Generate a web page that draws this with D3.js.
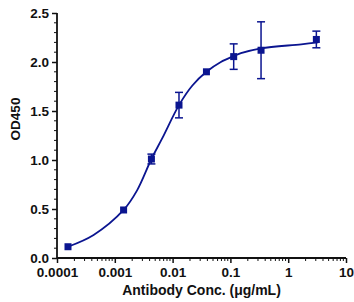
<!DOCTYPE html>
<html>
<head>
<meta charset="utf-8">
<script src="https://cdn.jsdelivr.net/npm/d3@7"></script>
<style>
  body { margin: 0; background: #fff; }
  text { font-family: "Liberation Sans", Arial, sans-serif; font-weight: bold; fill: #111; }
</style>
</head>
<body>
<svg id="Vis" width="354" height="302"></svg>
<script>
/*
* DATA
*/
const conc = [0.000155, 0.00142, 0.0043, 0.0129, 0.0385, 0.114, 0.339, 3.07];
const od = [0.115, 0.49, 1.01, 1.56, 1.90, 2.055, 2.12, 2.23];
const sd = [0.01, 0.01, 0.05, 0.13, 0.01, 0.13, 0.29, 0.085];

// fitted curve
const fitConc = [0.000155, 0.00043, 0.00142, 0.00243, 0.0043, 0.0066, 0.0129, 0.022, 0.0385, 0.0684, 0.114, 0.152, 0.339, 1.68, 3.3];
const fitOd = [0.115, 0.235, 0.49, 0.69, 1.01, 1.22, 1.56, 1.76, 1.90, 2.00, 2.06, 2.09, 2.14, 2.18, 2.20];

const xTicks = [0.0001, 0.001, 0.01, 0.1, 1, 10];
const xTickLabels = ["0.0001", "0.001", "0.01", "0.1", "1", "10"];
const yTicks = [0, 0.5, 1.0, 1.5, 2.0, 2.5];

/*
* SETUP
*/
const svg = d3.select("svg#Vis");
const blue = "#0b1590";
const margin = { left: 57, right: 346, top: 13, bottom: 258 };

const x = d3.scaleLog().domain([0.0001, 10]).range([margin.left, margin.right]);
const y = d3.scaleLinear().domain([0, 2.5]).range([margin.bottom, margin.top]);

/* minor ticks */
const xMinor = [];
for (let e = -4; e < 1; e++) {
  for (let m = 2; m <= 9; m++) xMinor.push(m * Math.pow(10, e));
}
const yMinor = d3.range(0, 2.51, 0.1).filter(v => Math.abs(v * 2 - Math.round(v * 2)) > 1e-6);

const axisG = svg.append("g");

/* X axis */
const xAxis = axisG.append("g").attr("transform", "translate(0," + margin.bottom + ")");
xAxis.call(d3.axisBottom(x).tickValues(xTicks).tickFormat((d, i) => xTickLabels[i]).tickSize(5).tickPadding(4));
xAxis.append("g").selectAll("line").data(xMinor).join("line")
  .attr("x1", d => x(d)).attr("x2", d => x(d)).attr("y1", 0).attr("y2", 3)
  .attr("stroke", "#111").attr("stroke-width", 1);

/* Y axis */
const yAxis = axisG.append("g").attr("transform", "translate(" + margin.left + ",0)");
yAxis.call(d3.axisLeft(y).tickValues(yTicks).tickFormat(d3.format(".1f")).tickSize(5).tickPadding(3));
yAxis.append("g").selectAll("line").data(yMinor).join("line")
  .attr("y1", d => y(d)).attr("y2", d => y(d)).attr("x1", 0).attr("x2", -3)
  .attr("stroke", "#111").attr("stroke-width", 1);

/* plain axis lines, no end caps */
xAxis.select(".domain").attr("d", "M" + margin.left + ",0H" + margin.right);
yAxis.select(".domain").attr("d", "M0," + margin.bottom + "V" + margin.top);
axisG.selectAll(".domain").attr("stroke", "#111").attr("stroke-width", 1.8);
axisG.selectAll(".tick line").attr("stroke", "#111").attr("stroke-width", 1.5);
axisG.selectAll(".tick text")
  .style("font-size", "13.5px")
  .style("font-family", "Liberation Sans, Arial, sans-serif")
  .style("font-weight", "bold")
  .attr("fill", "#111");

/* Axis titles */
svg.append("text")
  .attr("x", 201.5).attr("y", 295)
  .attr("text-anchor", "middle")
  .style("font-size", "14px")
  .text("Antibody Conc. (μg/mL)");

svg.append("text")
  .attr("transform", "translate(20,119) rotate(-90)")
  .attr("text-anchor", "middle")
  .style("font-size", "13.5px")
  .text("OD450");

/* Fit curve */
const line = d3.line()
  .x((d, i) => x(fitConc[i]))
  .y(d => y(d))
  .curve(d3.curveCatmullRom);

svg.append("path")
  .datum(fitOd)
  .attr("d", line)
  .attr("fill", "none")
  .attr("stroke", blue)
  .attr("stroke-width", 1.8);

/* Error bars */
const err = svg.append("g").attr("stroke", blue).attr("stroke-width", 1.5);
conc.forEach((c, i) => {
  if (sd[i] < 0.03) return;
  const cx = x(c);
  const y1 = y(od[i] + sd[i]);
  const y2 = y(od[i] - sd[i]);
  err.append("line").attr("x1", cx).attr("x2", cx).attr("y1", y1).attr("y2", y2);
  err.append("line").attr("x1", cx - 4).attr("x2", cx + 4).attr("y1", y1).attr("y2", y1);
  err.append("line").attr("x1", cx - 4).attr("x2", cx + 4).attr("y1", y2).attr("y2", y2);
});

/* Points */
svg.append("g").selectAll("rect").data(od).join("rect")
  .attr("x", (d, i) => x(conc[i]) - 3.5)
  .attr("y", d => y(d) - 3.5)
  .attr("width", 7).attr("height", 7)
  .attr("fill", blue);
</script>
</body>
</html>
